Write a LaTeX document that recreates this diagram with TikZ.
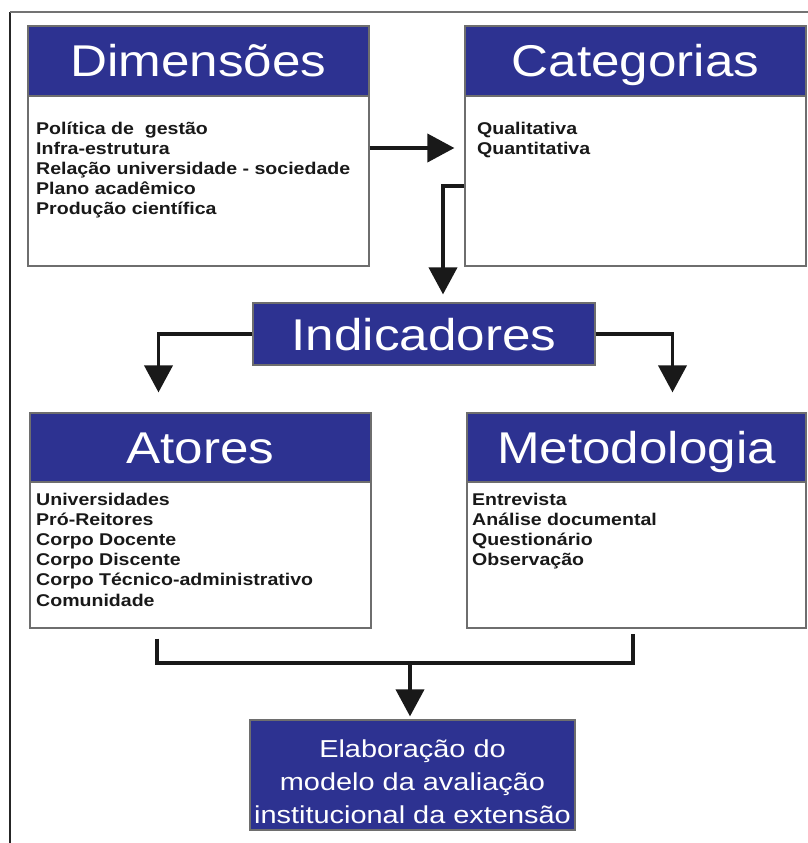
\documentclass[tikz,border=0pt]{standalone}
\usepackage{fontspec}
\setmainfont{Liberation Sans}
\usetikzlibrary{arrows.meta}
\definecolor{hdrblue}{RGB}{45,50,145}
\definecolor{boxgray}{RGB}{110,110,110}
\definecolor{ink}{RGB}{25,25,25}
\newcommand{\hx}[1]{\scalebox{1.15}[1]{#1}}
\newcommand{\bx}[1]{\scalebox{1.15}[1]{\begin{tabular}[t]{@{}l@{}}#1\end{tabular}}}
\begin{document}
\begin{tikzpicture}[x=1pt,y=-1pt,
  hdr/.style={draw=boxgray, line width=1.2pt, fill=hdrblue, text=white, inner sep=0pt,
    font=\fontsize{44.5}{44.5}\selectfont, text height=32pt, text depth=0pt},
  bodybox/.style={draw=boxgray, line width=1.2pt, fill=white, inner sep=0pt},
  items/.style={anchor=base west, inner sep=0pt, text=ink, font=\bfseries\fontsize{17}{20.2}\selectfont},
  conn/.style={draw=ink, line width=3.8pt},
  arr/.style={conn, -{Triangle[width=28pt,length=27pt]}},
  frame/.style={line width=1.5pt}]
\useasboundingbox[fill=white] (0,0) rectangle (808,843);
\draw[frame, draw=black!85] (10,843) -- (10,12);
\draw[frame, draw=black!55] (10,12) -- (808,12);

% Dimensoes
\node[bodybox, minimum width=341pt, minimum height=170pt] (dimB) at (198.5,181) {};
\node[hdr, minimum width=341pt, minimum height=70pt] (dimH) at (198.5,61) {\hx{Dimensões}};
\node[items] (dimT) at (36,134) {\bx{Política de\ \ gestão\\Infra-estrutura\\Relação universidade - sociedade\\Plano acadêmico\\Produção científica}};

% Categorias
\node[bodybox, minimum width=341pt, minimum height=170pt] (catB) at (635.5,181) {};
\node[hdr, minimum width=341pt, minimum height=70pt] (catH) at (635.5,61) {\hx{Categorias}};
\node[items] (catT) at (477,134) {\bx{Qualitativa\\Quantitativa}};

% Indicadores
\node[hdr, minimum width=342pt, minimum height=62pt] (ind) at (424,334) {\hx{Indicadores}};

% Atores
\node[bodybox, minimum width=341pt, minimum height=146pt] (atB) at (200.5,555) {};
\node[hdr, minimum width=341pt, minimum height=69pt] (atH) at (200.5,447.5) {\hx{Atores}};
\node[items] (atT) at (36,505) {\bx{Universidades\\Pró-Reitores\\Corpo Docente\\Corpo Discente\\Corpo Técnico-administrativo\\Comunidade}};

% Metodologia
\node[bodybox, minimum width=339pt, minimum height=146pt] (meB) at (636.5,555) {};
\node[hdr, minimum width=339pt, minimum height=69pt] (meH) at (636.5,447.5) {\hx{Metodologia}};
\node[items] (meT) at (472,505) {\bx{Entrevista\\Análise documental\\Questionário\\Observação}};

% Final
\node[hdr, minimum width=325pt, minimum height=110pt] (fin) at (412.5,775) {};
\node[anchor=base, inner sep=0pt, text=white, font=\fontsize{24.5}{33}\selectfont] (finT) at (412.5,757)
  {\scalebox{1.18}[1]{\begin{tabular}[t]{@{}c@{}}Elaboração do\\modelo da avaliação\\institucional da extensão\end{tabular}}};

% connectors
\draw[arr] ([yshift=33pt]dimB.east) -- ([xshift=-10pt,yshift=33pt]catB.west);
\draw[arr] ([yshift=-5pt]catB.west) -| ([xshift=19pt,yshift=8pt]ind.north);
\draw[arr] (ind.west) -| ([xshift=-42pt,yshift=20pt]atH.north);
\draw[arr] (ind.east) -| ([xshift=36pt,yshift=20pt]meH.north);
\draw[conn] ([xshift=-43.5pt,yshift=-10pt]atB.south) -- ([xshift=-43.5pt,yshift=-34pt]atB.south)
  -| ([xshift=-3.5pt,yshift=-5pt]meB.south);
\coordinate (jn) at ([xshift=-2.5pt,yshift=58pt]fin.north);
\draw[arr] (jn) -- ([xshift=-2.5pt,yshift=3pt]fin.north);
\end{tikzpicture}
\end{document}
